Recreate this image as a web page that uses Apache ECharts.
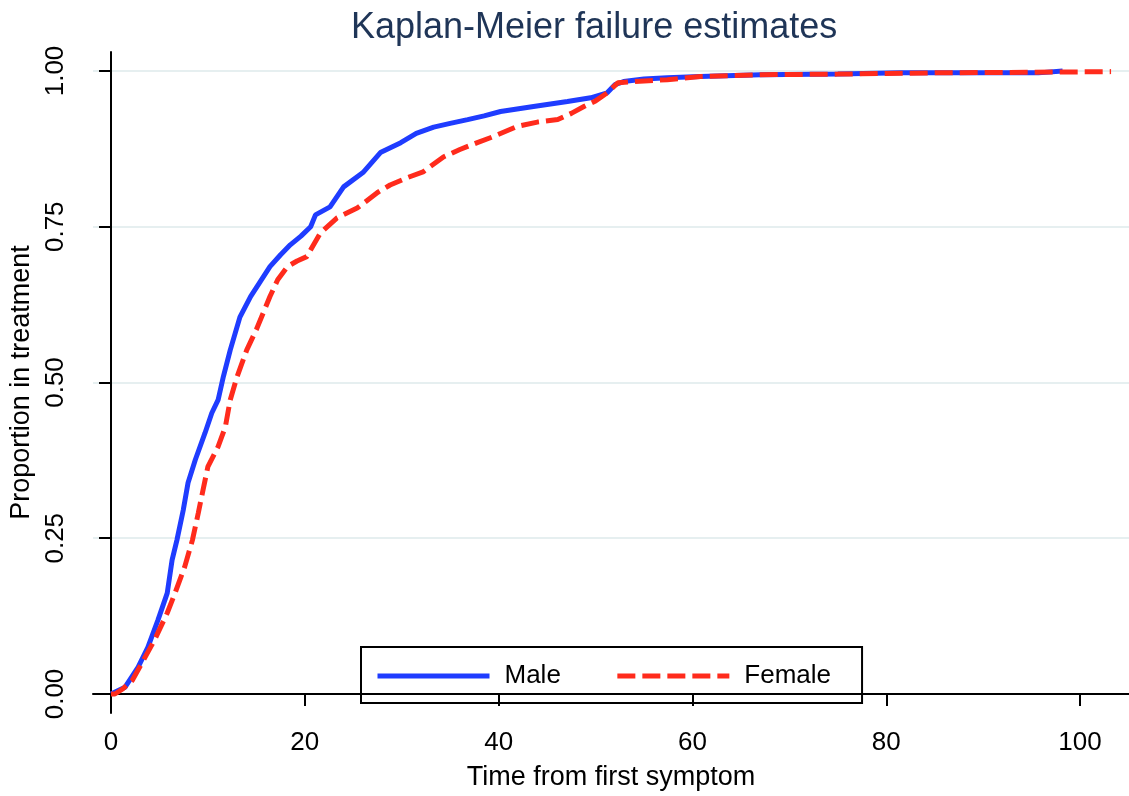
<!DOCTYPE html>
<html>
<head>
<meta charset="utf-8">
<title>Kaplan-Meier failure estimates</title>
<script src="https://cdn.jsdelivr.net/npm/echarts@6/dist/echarts.min.js"></script>
<style>
    html, body { margin: 0; padding: 0; background: #fff; }
    #chart { width: 1129px; height: 796px; }
</style>
</head>
<body>
<div id="chart"></div>
<script>
// data
var maleTime = [0, 0.1, 1.45, 2.8, 3.8, 4.85, 5.8, 6.3, 6.8, 7.45, 7.95, 8.7, 9.7, 10.4, 11.05, 11.6, 12.3, 13.3, 14.4, 15.4,
    16.4, 17.5, 18.5, 19.6, 20.6, 21.1, 22.6, 24.0, 26.0, 27.8, 29.9, 31.5, 33.3, 35, 36.8, 38.5, 40.2, 43.6, 47.1, 49.5,
    51.2, 52.0, 52.9, 55, 57.4, 60.8, 67, 75, 81.5, 90, 95.7, 95.8, 98.2];
var maleProp = [0, 0.002, 0.011, 0.043, 0.075, 0.119, 0.162, 0.215, 0.247, 0.295, 0.339, 0.376, 0.419, 0.451, 0.472, 0.51, 0.552, 0.605, 0.638, 0.662,
    0.686, 0.705, 0.721, 0.735, 0.75, 0.769, 0.782, 0.814, 0.837, 0.869, 0.885, 0.9, 0.91, 0.916, 0.922, 0.928, 0.935, 0.943, 0.951, 0.957,
    0.965, 0.978, 0.983, 0.987, 0.989, 0.991, 0.994, 0.995, 0.997, 0.997, 0.997, 0.999, 1.0];

var femaleTime = [0, 0.4, 1.2, 2.2, 3.2, 4.5, 5.8, 6.6, 7.6, 8.4, 9.0, 9.5, 10.0, 11.05, 11.8, 12.3, 13.0, 14.0, 15.0, 16.4,
    17.2, 18.2, 19.2, 20.2, 21.6, 23.3, 25.4, 27.5, 28.8, 30.6, 32.2, 34.3, 36, 37.8, 39.5, 41.9, 44, 46.1, 47.5, 48.8,
    50, 51.2, 52.3, 55, 57.4, 60.8, 67, 75, 85, 95, 103.2];
var femaleProp = [0, 0, 0.008, 0.022, 0.05, 0.087, 0.13, 0.162, 0.204, 0.247, 0.29, 0.328, 0.365, 0.397, 0.429, 0.472, 0.509, 0.552, 0.585, 0.638,
    0.665, 0.686, 0.695, 0.702, 0.74, 0.764, 0.78, 0.805, 0.817, 0.829, 0.838, 0.862, 0.874, 0.885, 0.895, 0.911, 0.918, 0.922, 0.932, 0.943,
    0.952, 0.965, 0.981, 0.984, 0.986, 0.991, 0.994, 0.995, 0.997, 0.998, 0.999];

var xTicks = [0, 20, 40, 60, 80, 100];
var yTicks = [0, 0.25, 0.5, 0.75, 1];

function pairs(xs, ys) {
    return xs.map(function (x, i) { return [x, ys[i]]; });
}

var font = '"Liberation Sans", Arial, Helvetica, sans-serif';
var myChart = echarts.init(document.getElementById('chart'));

myChart.setOption({
    animation: false,
    backgroundColor: '#fff',
    title: {
        text: 'Kaplan-Meier failure estimates',
        left: 346,
        top: 5,
        textStyle: { fontFamily: font, fontSize: 36, fontWeight: 'normal', color: '#1f3557' }
    },
    legend: {
        left: 361,
        top: 647,
        orient: 'horizontal',
        borderColor: '#000',
        borderWidth: 2,
        padding: [16, 31, 14, 14],
        itemGap: 54,
        itemWidth: 112,
        itemHeight: 26,
        textStyle: { fontFamily: font, fontSize: 26, color: '#000', padding: [0, 0, 0, 10] },
        itemStyle: { opacity: 0 },
        lineStyle: { width: 5 },
        data: ['Male', 'Female']
    },
    grid: { left: 93, right: 0, top: 52, bottom: 83 },
    xAxis: {
        type: 'value',
        min: -1.86,
        max: 105.05,
        name: 'Time from first symptom',
        nameLocation: 'middle',
        nameGap: 51,
        nameTextStyle: { fontFamily: font, fontSize: 27, color: '#000' },
        axisLine: { show: true, lineStyle: { color: '#000', width: 2 } },
        axisTick: { show: true, length: 12, lineStyle: { color: '#000', width: 2 }, customValues: xTicks },
        axisLabel: { fontFamily: font, fontSize: 26, color: '#000', margin: 17, customValues: xTicks },
        splitLine: { show: false }
    },
    yAxis: {
        type: 'value',
        min: -0.0305,
        max: 1.0305,
        name: 'Proportion in treatment',
        nameLocation: 'middle',
        nameRotate: 90,
        nameGap: 55,
        nameTextStyle: { fontFamily: font, fontSize: 27, color: '#000' },
        axisLine: { show: true, lineStyle: { color: '#000', width: 2 } },
        axisTick: { show: true, length: 12, lineStyle: { color: '#000', width: 2 }, customValues: yTicks },
        axisLabel: {
            fontFamily: font, fontSize: 26, color: '#000', margin: 24, rotate: 90,
            customValues: yTicks,
            formatter: function (v) { return v.toFixed(2); }
        },
        splitLine: { show: true, lineStyle: { color: '#e6eff0', width: 2 } }
    },
    series: [
        {
            name: 'Male',
            type: 'line',
            data: pairs(maleTime, maleProp),
            symbol: 'none',
            showSymbol: false,
            color: '#1f3cff',
            lineStyle: { color: '#1f3cff', width: 5 }
        },
        {
            name: 'Female',
            type: 'line',
            data: pairs(femaleTime, femaleProp),
            symbol: 'none',
            showSymbol: false,
            color: '#ff2b1c',
            lineStyle: { color: '#ff2b1c', width: 5, type: [18, 7] }
        }
    ]
});
</script>
</body>
</html>
